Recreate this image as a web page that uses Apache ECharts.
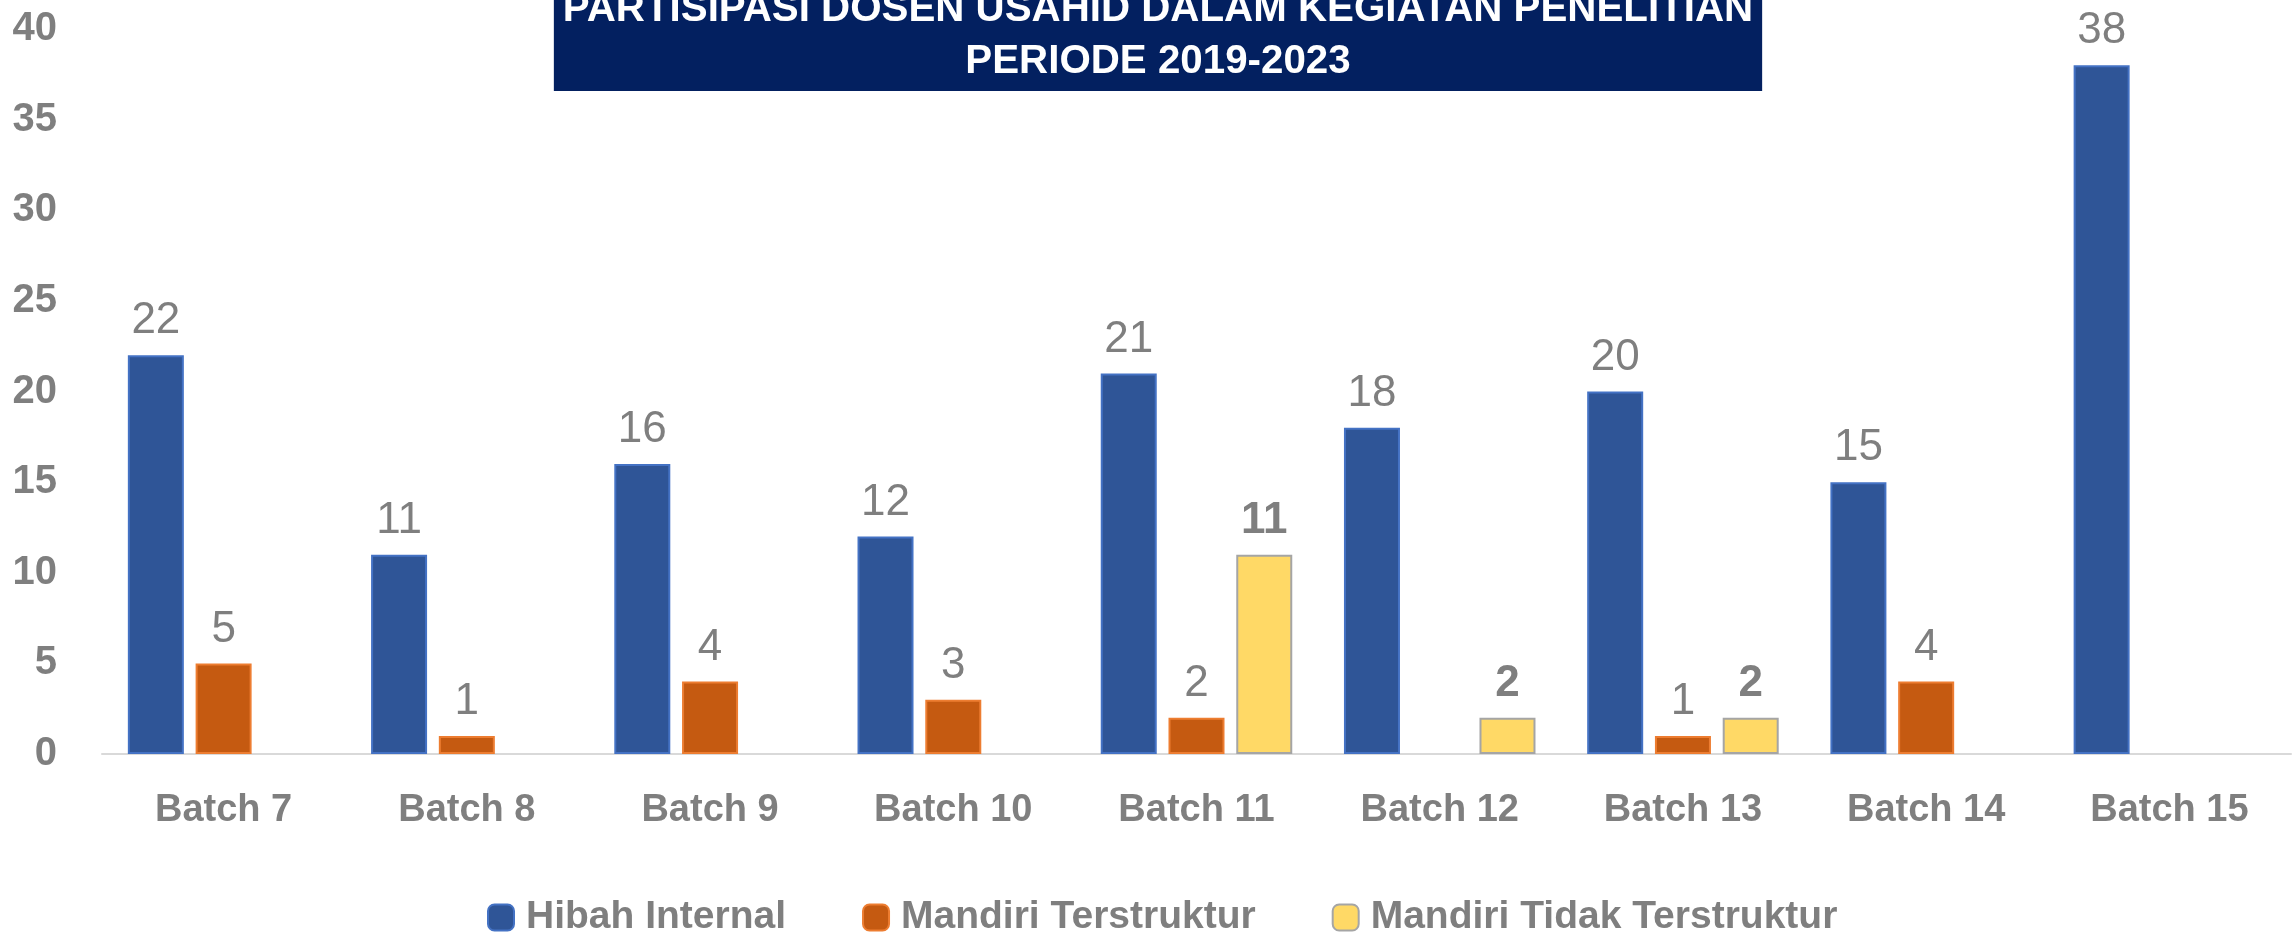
<!DOCTYPE html>
<html>
<head>
<meta charset="utf-8">
<script src="https://cdn.jsdelivr.net/npm/echarts@6/dist/echarts.min.js"></script>
<style>
  html, body { margin: 0; padding: 0; background: #fff; }
  #myChart { width: 2295px; height: 938px; }
</style>
</head>
<body>
<div id="myChart"></div>
<script>
// data
const categories = ["Batch 7", "Batch 8", "Batch 9", "Batch 10", "Batch 11", "Batch 12", "Batch 13", "Batch 14", "Batch 15"];
const hibahInternal = [22, 11, 16, 12, 21, 18, 20, 15, 38];
const mandiriTerstruktur = [5, 1, 4, 3, 2, "-", 1, 4, "-"];
const mandiriTidakTerstruktur = ["-", "-", "-", "-", 11, 2, 2, "-", "-"];
const seriesNames = ["Hibah Internal", "Mandiri Terstruktur", "Mandiri Tidak Terstruktur"];

const font = '"Liberation Sans", Arial, sans-serif';
const grey = "#7f7f7f";

// style per series: fill, border, label weight
const styles = [
  { color: "#2f5597", border: "#4472c4", weight: "normal" },
  { color: "#c55a11", border: "#ed7d31", weight: "normal" },
  { color: "#ffd966", border: "#a5a5a5", weight: "bold" },
];

let seriesData = [hibahInternal, mandiriTerstruktur, mandiriTidakTerstruktur].map((data, i) => ({
  name: seriesNames[i],
  type: "bar",
  data: data,
  barWidth: 56,
  barGap: "21%",
  itemStyle: {
    color: styles[i].color,
    borderColor: styles[i].border,
    borderWidth: 2,
  },
  label: {
    show: true,
    position: "top",
    distance: 12,
    fontFamily: font,
    fontSize: 44,
    fontWeight: styles[i].weight,
    color: grey,
  },
}));

let myChart = echarts.init(document.getElementById("myChart"));
let option = {
  animation: false,
  title: {
    text: "PARTISIPASI DOSEN USAHID DALAM KEGIATAN PENELITIAN\nPERIODE 2019-2023",
    left: 1149,
    top: -20,
    padding: [4, 9, 3, 9],
    backgroundColor: "#032060",
    textAlign: "center",
    textStyle: {
      color: "#fff",
      fontFamily: font,
      fontWeight: "bold",
      fontSize: 40.3,
      lineHeight: 52,
    },
  },
  legend: {
    data: seriesNames,
    left: 487,
    top: 898,
    padding: 0,
    itemWidth: 26,
    itemHeight: 26,
    itemGap: 76,
    textStyle: {
      fontFamily: font,
      fontWeight: "bold",
      fontSize: 39,
      color: grey,
      padding: [0, 0, 0, 7],
    },
  },
  grid: {
    left: 102,
    right: 4,
    top: 29,
    bottom: 184,
    containLabel: false,
  },
  xAxis: {
    type: "category",
    data: categories,
    axisTick: { show: false },
    axisLine: { lineStyle: { color: "#d9d9d9", width: 2 } },
    axisLabel: {
      interval: 0,
      margin: 38,
      fontFamily: font,
      fontWeight: "bold",
      fontSize: 38,
      color: grey,
    },
  },
  yAxis: {
    type: "value",
    min: 0,
    max: 40,
    interval: 5,
    axisLine: { show: false },
    axisTick: { show: false },
    splitLine: { show: false },
    axisLabel: {
      margin: 45,
      fontFamily: font,
      fontWeight: "bold",
      fontSize: 40,
      color: grey,
    },
  },
  series: seriesData,
};
myChart.setOption(option);
</script>
</body>
</html>
